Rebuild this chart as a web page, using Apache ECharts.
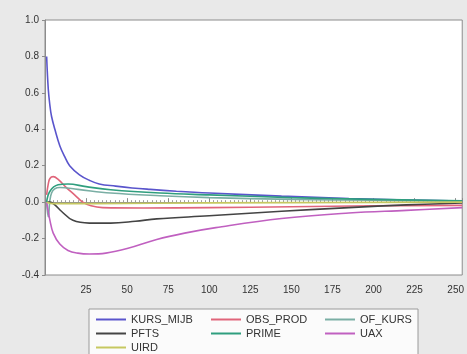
<!DOCTYPE html>
<html>
<head>
<meta charset="utf-8">
<script src="https://cdn.jsdelivr.net/npm/echarts@6/dist/echarts.min.js"></script>
<style>
html, body { margin: 0; padding: 0; background: #e9e9e9; }
#chart { width: 467px; height: 354px; }
</style>
</head>
<body>
<div id="chart"></div>
<script>
// impulse responses: [period, response]
var kursMijb = [[1,0.80],[2,0.62],[3,0.53],[4,0.47],[6,0.40],[9,0.31],[12,0.25],[15,0.20],[21,0.15],[27,0.12],[33,0.10],[43,0.088],[53,0.078],[64,0.07],[80,0.06],[100,0.05],[144,0.033],[185,0.02],[220,0.012],[254,0.006]];
var obsProd = [[1,0.04],[2,0.10],[3,0.13],[5,0.14],[8,0.125],[13,0.08],[18,0.04],[23,0.0],[28,-0.02],[35,-0.03],[60,-0.032],[100,-0.03],[150,-0.025],[200,-0.02],[254,-0.018]];
var ofKurs = [[1,0.0],[2,-0.08],[4,0.05],[9,0.08],[20,0.07],[40,0.05],[70,0.035],[100,0.025],[150,0.015],[200,0.01],[254,0.005]];
var pfts = [[1,0.0],[3,0.0],[6,-0.015],[10,-0.05],[17,-0.1],[27,-0.115],[40,-0.115],[55,-0.105],[68,-0.092],[100,-0.075],[144,-0.05],[185,-0.03],[220,-0.015],[254,-0.005]];
var prime = [[1,0.0],[3,0.06],[8,0.095],[14,0.1],[25,0.085],[40,0.068],[70,0.05],[100,0.04],[150,0.025],[200,0.015],[254,0.008]];
var uax = [[1,0.0],[3,-0.1],[5,-0.17],[9,-0.23],[14,-0.265],[20,-0.28],[27,-0.285],[37,-0.28],[50,-0.255],[68,-0.205],[85,-0.17],[104,-0.14],[144,-0.09],[185,-0.06],[220,-0.045],[254,-0.03]];
var uird = [[1,0.0],[5,-0.008],[30,-0.008],[100,-0.004],[254,0.0]];

var names = ['KURS_MIJB','OBS_PROD','OF_KURS','PFTS','PRIME','UAX','UIRD'];
var values = [kursMijb, obsProd, ofKurs, pfts, prime, uax, uird];
var colors = ['#5a55cc','#e0657a','#7aaea4','#444444','#2f9e7e','#c060c0','#c6c860'];

var series = [];
for (var i = 0; i < names.length; i++) {
	series.push({
		name: names[i],
		type: 'line',
		data: values[i],
		smooth: 0.4,
		symbol: 'none',
		showSymbol: false,
		lineStyle: { width: 1.6, color: colors[i] },
		itemStyle: { color: colors[i] }
	});
}

var legendText = { color: '#333', fontSize: 11, lineHeight: 10, fontFamily: 'Liberation Sans' };
function legendCol(left, data) {
	return {
		orient: 'vertical',
		left: left,
		top: 314,
		height: 80,
		icon: 'rect',
		itemWidth: 30,
		itemHeight: 2,
		itemGap: 3,
		padding: 0,
		textStyle: legendText,
		data: data
	};
}

var myChart = echarts.init(document.getElementById('chart'));
var option = {
	backgroundColor: '#e9e9e9',
	animation: false,
	grid: {
		left: 45, right: 3, top: 20, bottom: 79,
		show: true,
		backgroundColor: '#ffffff',
		borderColor: '#8c8c8c',
		borderWidth: 1
	},
	graphic: [{
		type: 'rect',
		shape: { x: 89, y: 309, width: 329, height: 50 },
		style: { fill: '#fbfbfb', stroke: '#9a9a9a', lineWidth: 1 },
		z: 0
	}],
	legend: [
		legendCol(96, ['KURS_MIJB','PFTS','UIRD']),
		legendCol(211, ['OBS_PROD','PRIME']),
		legendCol(325, ['OF_KURS','UAX'])
	],
	xAxis: {
		type: 'value',
		min: 0,
		max: 254,
		interval: 25,
		axisLine: { lineStyle: { color: '#8c8c8c' } },
		axisTick: { inside: true, length: 4, lineStyle: { color: '#8c8c8c' } },
		minorTick: { show: true, splitNumber: 10, length: 2, lineStyle: { color: '#a0a0a0' } },
		splitLine: { show: false },
		axisLabel: {
			color: '#333', fontSize: 10, fontFamily: 'Liberation Sans', margin: 10,
			showMinLabel: false, showMaxLabel: false
		}
	},
	yAxis: {
		type: 'value',
		min: -0.4,
		max: 1.0,
		interval: 0.2,
		axisLine: { show: true, lineStyle: { color: '#8c8c8c' } },
		axisTick: { show: true, length: 3, lineStyle: { color: '#8c8c8c' } },
		splitLine: { show: false },
		axisLabel: {
			color: '#333', fontSize: 10, fontFamily: 'Liberation Sans', margin: 6,
			formatter: function (v) { return v.toFixed(1); }
		}
	},
	series: series
};
myChart.setOption(option);
</script>
</body>
</html>
